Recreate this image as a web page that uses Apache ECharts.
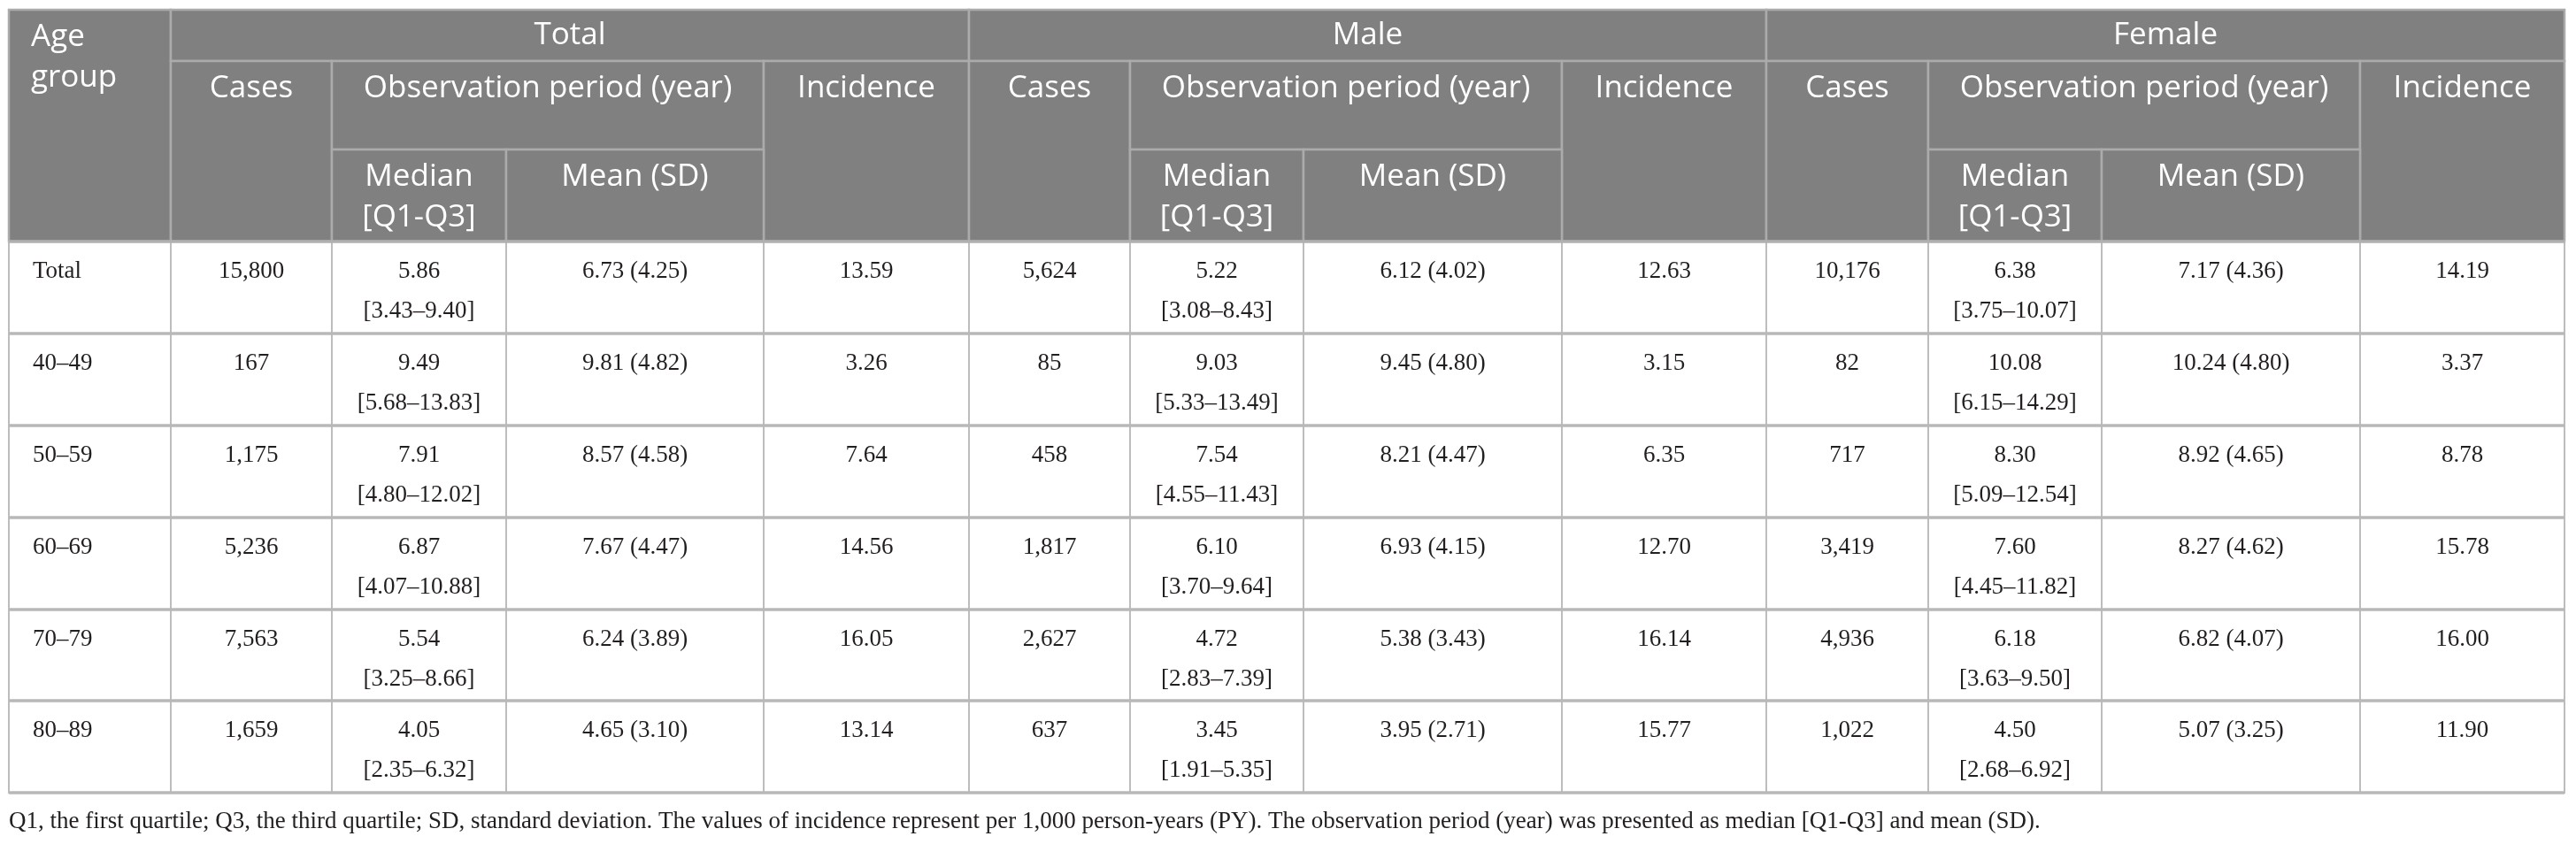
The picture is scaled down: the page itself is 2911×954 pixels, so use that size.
<!DOCTYPE html>
<html>
<head>
<meta charset="utf-8">
<script src="https://cdn.jsdelivr.net/npm/echarts@6/dist/echarts.min.js"></script>
<style>
html,body{margin:0;padding:0;background:#fff;}
#chart{width:2911px;height:954px;}
</style>
</head>
<body>
<div id="chart"></div>
<script>
// ---------------- data ----------------
const ageGroups = ['Total', '40–49', '50–59', '60–69', '70–79', '80–89'];
const groupLabels = ['Total', 'Male', 'Female'];
const subHeaders = ['Cases', 'Observation period (year)', 'Incidence'];
const periodHeaders = ['Median\n[Q1-Q3]', 'Mean (SD)'];
const ageHeader = 'Age\ngroup';

const totalCases = [15800, 167, 1175, 5236, 7563, 1659];
const totalMedian = [5.86, 9.49, 7.91, 6.87, 5.54, 4.05];
const totalQ1 = [3.43, 5.68, 4.80, 4.07, 3.25, 2.35];
const totalQ3 = [9.40, 13.83, 12.02, 10.88, 8.66, 6.32];
const totalMean = [6.73, 9.81, 8.57, 7.67, 6.24, 4.65];
const totalSD = [4.25, 4.82, 4.58, 4.47, 3.89, 3.10];
const totalIncidence = [13.59, 3.26, 7.64, 14.56, 16.05, 13.14];

const maleCases = [5624, 85, 458, 1817, 2627, 637];
const maleMedian = [5.22, 9.03, 7.54, 6.10, 4.72, 3.45];
const maleQ1 = [3.08, 5.33, 4.55, 3.70, 2.83, 1.91];
const maleQ3 = [8.43, 13.49, 11.43, 9.64, 7.39, 5.35];
const maleMean = [6.12, 9.45, 8.21, 6.93, 5.38, 3.95];
const maleSD = [4.02, 4.80, 4.47, 4.15, 3.43, 2.71];
const maleIncidence = [12.63, 3.15, 6.35, 12.70, 16.14, 15.77];

const femaleCases = [10176, 82, 717, 3419, 4936, 1022];
const femaleMedian = [6.38, 10.08, 8.30, 7.60, 6.18, 4.50];
const femaleQ1 = [3.75, 6.15, 5.09, 4.45, 3.63, 2.68];
const femaleQ3 = [10.07, 14.29, 12.54, 11.82, 9.50, 6.92];
const femaleMean = [7.17, 10.24, 8.92, 8.27, 6.82, 5.07];
const femaleSD = [4.36, 4.80, 4.65, 4.62, 4.07, 3.25];
const femaleIncidence = [14.19, 3.37, 8.78, 15.78, 16.00, 11.90];

const footnote = 'Q1, the first quartile; Q3, the third quartile; SD, standard deviation. The values of incidence represent per 1,000 person-years (PY). The observation period (year) was presented as median [Q1-Q3] and mean (SD).';

// ---------------- layout (not data) ----------------
const X_EDGES = [10, 193, 375, 572, 863, 1095, 1277, 1473, 1765, 1996, 2179, 2375, 2667, 2898];
const Y_EDGES = [11, 69, 169, 273, 377, 481, 585, 689, 792, 896];
const HEADER_BG = '#808080';
const HEADER_LINE = '#ababab';
const BODY_LINE = '#bdbdbd';
const SANS = '"Open Sans", "Noto Sans", sans-serif';
const SERIF = '"Liberation Serif", "DejaVu Serif", serif';

const f2 = v => v.toFixed(2);
const fInt = v => v.toLocaleString('en-US');

// ---------------- build cells ----------------
const cells = [];
// header
cells.push({c0: 0, c1: 1, r0: 0, r1: 3, text: ageHeader, header: true, align: 'left', padTop: 0.55});
const groups = [
  {cases: totalCases, med: totalMedian, q1: totalQ1, q3: totalQ3, mean: totalMean, sd: totalSD, inc: totalIncidence},
  {cases: maleCases, med: maleMedian, q1: maleQ1, q3: maleQ3, mean: maleMean, sd: maleSD, inc: maleIncidence},
  {cases: femaleCases, med: femaleMedian, q1: femaleQ1, q3: femaleQ3, mean: femaleMean, sd: femaleSD, inc: femaleIncidence}
];
groups.forEach((g, gi) => {
  const base = 1 + gi * 4;
  cells.push({c0: base, c1: base + 4, r0: 0, r1: 1, text: groupLabels[gi], header: true, align: 'center', middle: true});
  cells.push({c0: base, c1: base + 1, r0: 1, r1: 3, text: subHeaders[0], header: true, align: 'center'});
  cells.push({c0: base + 1, c1: base + 3, r0: 1, r1: 2, text: subHeaders[1], header: true, align: 'center'});
  cells.push({c0: base + 3, c1: base + 4, r0: 1, r1: 3, text: subHeaders[2], header: true, align: 'center'});
  cells.push({c0: base + 1, c1: base + 2, r0: 2, r1: 3, text: periodHeaders[0], header: true, align: 'center'});
  cells.push({c0: base + 2, c1: base + 3, r0: 2, r1: 3, text: periodHeaders[1], header: true, align: 'center'});
});
// body
ageGroups.forEach((ag, ri) => {
  const r = 3 + ri;
  cells.push({c0: 0, c1: 1, r0: r, r1: r + 1, text: ag, align: 'left'});
  groups.forEach((g, gi) => {
    const base = 1 + gi * 4;
    cells.push({c0: base, c1: base + 1, r0: r, r1: r + 1, text: fInt(g.cases[ri]), align: 'center'});
    cells.push({c0: base + 1, c1: base + 2, r0: r, r1: r + 1,
      text: f2(g.med[ri]) + '\n[' + f2(g.q1[ri]) + '–' + f2(g.q3[ri]) + ']', align: 'center'});
    cells.push({c0: base + 2, c1: base + 3, r0: r, r1: r + 1,
      text: f2(g.mean[ri]) + ' (' + f2(g.sd[ri]) + ')', align: 'center'});
    cells.push({c0: base + 3, c1: base + 4, r0: r, r1: r + 1, text: f2(g.inc[ri]), align: 'center'});
  });
});

// ---------------- chart ----------------
const chart = echarts.init(document.getElementById('chart'), null, {renderer: 'canvas'});

function renderItem(params, api) {
  const cell = cells[params.dataIndex];
  const p0 = api.coord([X_EDGES[cell.c0], Y_EDGES[cell.r0]]);
  const p1 = api.coord([X_EDGES[cell.c1], Y_EDGES[cell.r1]]);
  const x = Math.min(p0[0], p1[0]), y = Math.min(p0[1], p1[1]);
  const w = Math.abs(p1[0] - p0[0]), h = Math.abs(p1[1] - p0[1]);
  const children = [];
  children.push({
    type: 'rect',
    shape: {x: x, y: y, width: w, height: h},
    style: {
      fill: cell.header ? HEADER_BG : '#ffffff',
      stroke: cell.header ? HEADER_LINE : BODY_LINE,
      lineWidth: cell.header ? 2.5 : 2
    }
  });
  let tx, align;
  if (cell.align === 'left') {
    tx = x + (cell.header ? 25 : 27);
    align = 'left';
  } else {
    tx = x + w / 2;
    align = 'center';
  }
  if (cell.header) {
    children.push({
      type: 'text',
      style: {
        x: tx,
        y: cell.middle ? y + h / 2 : y + 8,
        text: cell.text,
        fill: '#ffffff',
        font: '35px ' + SANS,
        lineHeight: 46,
        align: align,
        verticalAlign: cell.middle ? 'middle' : 'top'
      }
    });
  } else {
    children.push({
      type: 'text',
      style: {
        x: tx,
        y: y + 11,
        text: cell.text,
        fill: '#231f20',
        font: '27px ' + SERIF,
        lineHeight: 45,
        align: align,
        verticalAlign: 'top'
      }
    });
  }
  return {type: 'group', children: children};
}

// thicker horizontal separators between body rows
const rowLines = Y_EDGES.slice(3).map((yv, i) => i);

const option = {
  animation: false,
  backgroundColor: '#ffffff',
  title: {
    text: footnote,
    left: 10,
    top: 915,
    padding: 0,
    textStyle: {fontFamily: SERIF, fontSize: 27, fontWeight: 'normal', color: '#231f20'}
  },
  grid: {left: 0, right: 0, top: 0, bottom: 0, containLabel: false},
  xAxis: {type: 'value', min: 0, max: 2911, show: false},
  yAxis: {type: 'value', min: 0, max: 954, inverse: true, show: false},
  series: [
    {
      type: 'custom',
      renderItem: renderItem,
      data: cells.map(c => [X_EDGES[c.c0], Y_EDGES[c.r0]]),
      silent: true,
      clip: false
    },
    {
      type: 'custom',
      silent: true,
      clip: false,
      data: rowLines.map(i => [X_EDGES[0], Y_EDGES[3 + i]]),
      renderItem: function (params, api) {
        const yv = Y_EDGES[3 + params.dataIndex];
        const a = api.coord([X_EDGES[0], yv]);
        const b = api.coord([X_EDGES[X_EDGES.length - 1], yv]);
        return {
          type: 'line',
          shape: {x1: a[0], y1: a[1], x2: b[0], y2: b[1]},
          style: {stroke: params.dataIndex === 0 ? '#b0b0b0' : '#b8b8b8', lineWidth: 3.5}
        };
      }
    }
  ]
};
chart.setOption(option);
</script>
</body>
</html>
